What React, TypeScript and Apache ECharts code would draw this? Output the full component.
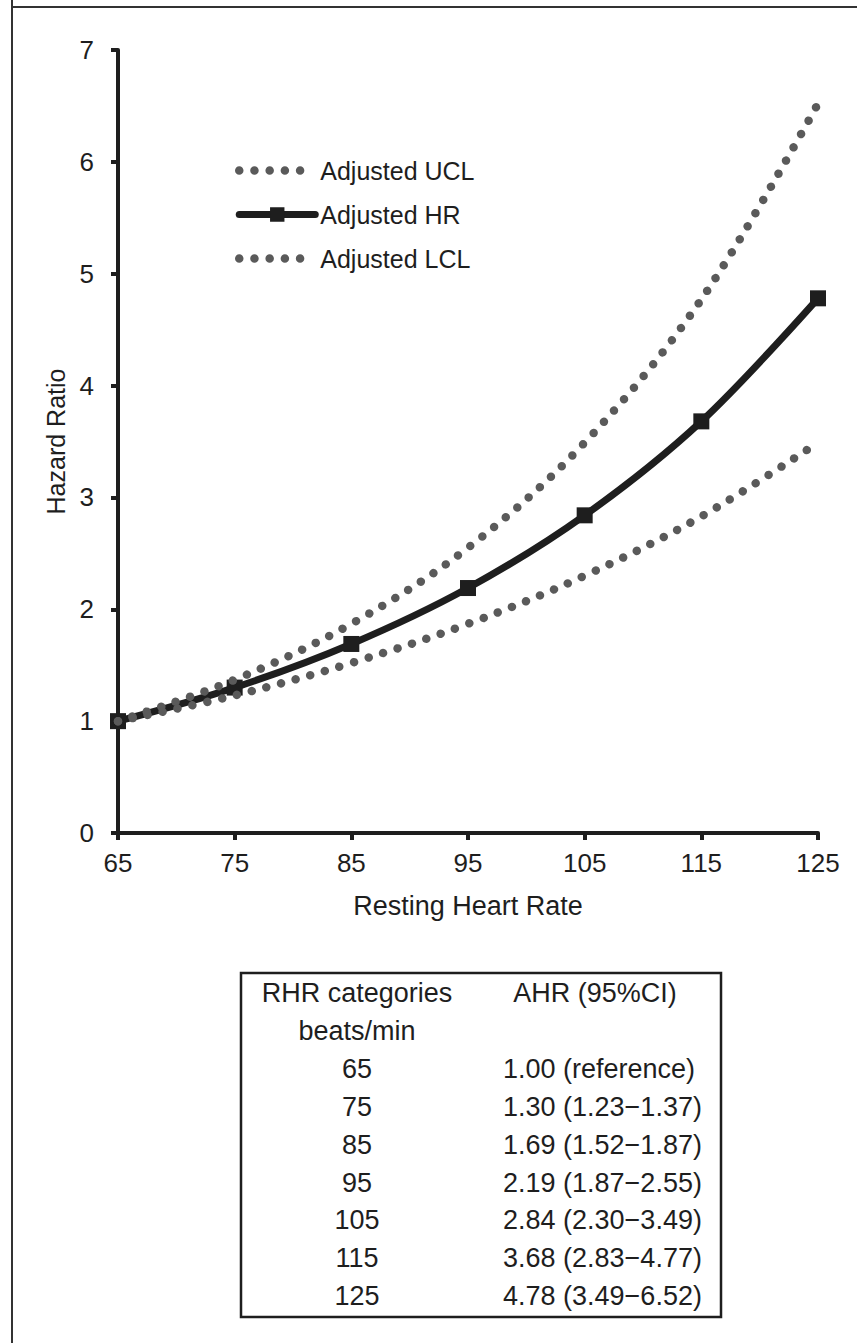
import React, { useEffect, useRef } from "react";
import * as echarts from "echarts";

const heartRates = ["65", "75", "85", "95", "105", "115", "125"];
const adjustedHR = [1.0, 1.3, 1.69, 2.19, 2.84, 3.68, 4.78];
const adjustedLCL = [1.0, 1.23, 1.52, 1.87, 2.3, 2.83, 3.49];
const adjustedUCL = [1.0, 1.37, 1.87, 2.55, 3.49, 4.77, 6.52];
const tableHeader1 = ["RHR categories", "beats/min"];
const tableHeader2 = "AHR (95%CI)";
const FONT = "'Liberation Sans', Arial, Helvetica, sans-serif";

export default function App() {
  const ref = useRef<HTMLDivElement>(null);
  useEffect(() => {
    if (!ref.current) return;
    const chart = echarts.init(ref.current, null, { renderer: "svg" });
    const ink = "#1e1e1e";
    const dotColor = "#5a5a5a";

    const rowY0 = 993;
    const rowPitch = 37.9;
    const tFont = `27px ${FONT}`;
    const tableTexts: any[] = [];
    tableHeader1.forEach((t, i) => {
      tableTexts.push({
        type: "text",
        x: 357,
        y: rowY0 + rowPitch * i,
        style: { text: t, font: tFont, fill: ink, textAlign: "center", textVerticalAlign: "middle" },
      });
    });
    tableTexts.push({
      type: "text",
      x: 595,
      y: rowY0,
      style: { text: tableHeader2, font: tFont, fill: ink, textAlign: "center", textVerticalAlign: "middle" },
    });
    heartRates.forEach((hrLabel, i) => {
      const y = rowY0 + rowPitch * (i + 2);
      const val =
        i === 0
          ? `${adjustedHR[i].toFixed(2)} (reference)`
          : `${adjustedHR[i].toFixed(2)} (${adjustedLCL[i].toFixed(2)}\u2212${adjustedUCL[i].toFixed(2)})`;
      tableTexts.push({
        type: "text",
        x: 357,
        y,
        style: { text: hrLabel, font: tFont, fill: ink, textAlign: "center", textVerticalAlign: "middle" },
      });
      tableTexts.push({
        type: "text",
        x: 503,
        y,
        style: { text: val, font: tFont, fill: ink, textAlign: "left", textVerticalAlign: "middle" },
      });
    });

    const dotted = {
      color: dotColor,
      width: 8.5,
      type: [0.01, 15.2],
      cap: "round",
    };

    chart.setOption({
      animation: false,
      backgroundColor: "#ffffff",
      grid: { left: 118, top: 50, right: 39, bottom: 510, containLabel: false },
      legend: {
        orient: "vertical",
        left: 235,
        top: 158,
        padding: 0,
        itemWidth: 76,
        itemHeight: 18,
        itemGap: 19,
        textStyle: { fontFamily: FONT, fontSize: 25, color: ink },
        lineStyle: { width: "inherit", cap: "inherit", type: "inherit" },
        data: [
          { name: "Adjusted UCL", itemStyle: { opacity: 0 } },
          { name: "Adjusted HR" },
          { name: "Adjusted LCL", itemStyle: { opacity: 0 } },
        ],
      },
      xAxis: {
        type: "category",
        data: heartRates,
        boundaryGap: false,
        name: "Resting Heart Rate",
        nameLocation: "middle",
        nameGap: 59,
        nameTextStyle: { fontFamily: FONT, fontSize: 27, color: ink },
        axisLine: { lineStyle: { color: ink, width: 4 } },
        axisTick: { show: true, length: 7, lineStyle: { color: ink, width: 4 }, alignWithLabel: true },
        axisLabel: { fontFamily: FONT, fontSize: 26, color: ink, margin: 17 },
        splitLine: { show: false },
      },
      yAxis: {
        type: "value",
        min: 0,
        max: 7,
        interval: 1,
        name: "Hazard Ratio",
        nameLocation: "middle",
        nameGap: 48,
        nameTextStyle: { fontFamily: FONT, fontSize: 25, color: ink },
        axisLine: { show: true, lineStyle: { color: ink, width: 4 } },
        axisTick: { show: true, length: 7, lineStyle: { color: ink, width: 4 } },
        axisLabel: { fontFamily: FONT, fontSize: 26, color: ink, margin: 24 },
        splitLine: { show: false },
      },
      series: [
        {
          name: "Adjusted HR",
          type: "line",
          data: adjustedHR,
          smooth: 0.35,
          symbol: "rect",
          symbolSize: 16,
          showSymbol: true,
          itemStyle: { color: ink },
          lineStyle: { color: ink, width: 7, cap: "round" },
          z: 2,
          clip: false,
        },
        {
          name: "Adjusted UCL",
          type: "line",
          data: adjustedUCL,
          smooth: 0.35,
          symbol: "none",
          itemStyle: { color: dotColor },
          lineStyle: dotted,
          z: 3,
          clip: false,
        },
        {
          name: "Adjusted LCL",
          type: "line",
          data: adjustedLCL,
          smooth: 0.35,
          symbol: "none",
          itemStyle: { color: dotColor },
          lineStyle: dotted,
          z: 3,
          clip: false,
        },
      ],
      graphic: [
        { type: "line", shape: { x1: 12, y1: 0, x2: 12, y2: 1343 }, style: { stroke: "#333", lineWidth: 2 } },
        { type: "line", shape: { x1: 12, y1: 7, x2: 857, y2: 7 }, style: { stroke: "#333", lineWidth: 2 } },
        {
          type: "rect",
          shape: { x: 241, y: 973, width: 480, height: 344 },
          style: { fill: "none", stroke: ink, lineWidth: 2.5 },
        },
        ...tableTexts,
      ],
    });
    return () => chart.dispose();
  }, []);
  return (
    <div
      ref={ref}
      style={{ position: "absolute", left: 0, top: 0, width: 857, height: 1343, background: "#fff" }}
    />
  );
}
